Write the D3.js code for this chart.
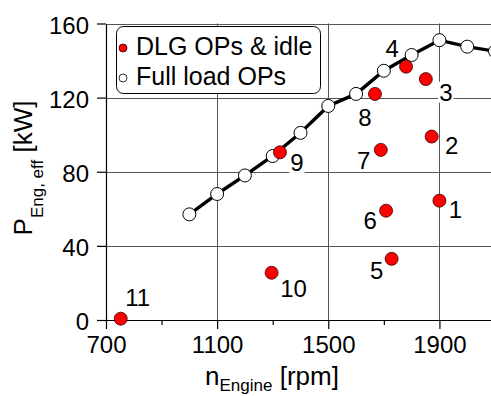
<!DOCTYPE html>
<html>
<head>
<meta charset="utf-8">
<script src="https://cdn.jsdelivr.net/npm/d3@7"></script>
<style>
    body { margin: 0; background: #fff; }
    svg { display: block; font-family: "Liberation Sans", Arial, sans-serif; }
</style>
</head>
<body>
<div id="chart"></div>
<script>
// full load operating points
const fullLoadRpm = [1000, 1100, 1200, 1300, 1400, 1500, 1600, 1700, 1800, 1900, 2000, 2100];
const fullLoadPower = [57, 68, 78, 88.5, 101, 115.5, 122, 134.5, 143, 151, 147.5, 145];

// DLG operating points & idle
const dlgNames = ["1", "2", "3", "4", "5", "6", "7", "8", "9", "10", "11"];
const dlgRpm = [1900, 1872, 1851, 1780, 1728, 1708, 1689, 1668, 1326, 1296, 753];
const dlgPower = [64.4, 99, 130, 136.7, 33, 59, 91.8, 122, 90.5, 25.5, 0.7];

const xTicks = [700, 1100, 1500, 1900];
const xMinorTicks = [900, 1300, 1700, 2100];
const yTicks = [0, 40, 80, 120, 160];
const legendLabels = ["DLG OPs & idle", "Full load OPs"];

// where each point label sits relative to its point (px)
const labelOffsets = [[16, 9], [20, 9], [20, 13], [-14, -18], [-15, 12], [-16, 10],
    [-17, 10], [-10, 23], [17, 10], [22, 15.5], [17, -21]];

const config = {
    width: 491,
    height: 396,
    left: 106,
    right: 495,
    top: 23.5,
    bottom: 320,
    gridColor: "#555"
};

const svg = d3.select("#chart")
    .append("svg")
    .attr("width", config.width)
    .attr("height", config.height);

const x = d3.scaleLinear().domain([700, 2100]).range([config.left, config.right]);
const y = d3.scaleLinear().domain([0, 160]).range([config.bottom, config.top]);

// grid
const grid = svg.append("g").attr("class", "grid");
grid.selectAll(".vgrid")
    .data(xTicks.slice(1))
    .enter()
    .append("line")
    .attr("x1", (d) => Math.round(x(d)) + 0.5)
    .attr("x2", (d) => Math.round(x(d)) + 0.5)
    .attr("y1", config.top)
    .attr("y2", config.bottom)
    .attr("stroke", config.gridColor)
    .attr("stroke-width", 1);

grid.selectAll(".hgrid")
    .data(yTicks.slice(1))
    .enter()
    .append("line")
    .attr("x1", config.left)
    .attr("x2", config.right)
    .attr("y1", (d) => Math.round(y(d)) + 0.5)
    .attr("y2", (d) => Math.round(y(d)) + 0.5)
    .attr("stroke", config.gridColor)
    .attr("stroke-width", 1);

// axes
const styleAxis = (g) => {
    g.select(".domain").attr("stroke", "#000").attr("stroke-width", 1.2);
    g.selectAll(".tick line").attr("stroke", "#000").attr("stroke-width", 1.2);
    g.selectAll(".tick text").attr("fill", "#000").style("font-size", "24px")
        .style("font-family", '"Liberation Sans", Arial, sans-serif');
};

svg.append("g")
    .attr("transform", `translate(0, ${config.bottom})`)
    .call(d3.axisBottom(x).tickValues(xMinorTicks).tickSize(5).tickFormat("").tickSizeOuter(0))
    .call(styleAxis);

svg.append("g")
    .attr("transform", `translate(0, ${config.bottom})`)
    .call(d3.axisBottom(x).tickValues(xTicks).tickSize(9).tickPadding(7).tickFormat(d3.format("d")).tickSizeOuter(0))
    .call(styleAxis);

svg.append("g")
    .attr("transform", `translate(${config.left}, 0)`)
    .call(d3.axisLeft(y).tickValues(yTicks).tickSize(9).tickPadding(8).tickSizeOuter(0))
    .call(styleAxis)
    .call((g) => g.selectAll(".tick text").attr("dy", "0.4em"));

// axis titles
const yTitle = svg.append("text")
    .attr("transform", "translate(32, 168) rotate(-90)")
    .attr("text-anchor", "middle")
    .style("font-size", "26px");
yTitle.append("tspan").text("P");
yTitle.append("tspan").attr("dy", 11).style("font-size", "17px").text("Eng, eff");
yTitle.append("tspan").attr("dy", -11).text(" [kW]");

const xTitle = svg.append("text")
    .attr("x", 272)
    .attr("y", 385)
    .attr("text-anchor", "middle")
    .style("font-size", "26px");
xTitle.append("tspan").text("n");
xTitle.append("tspan").attr("dy", 6).style("font-size", "17px").text("Engine");
xTitle.append("tspan").attr("dy", -6).text(" [rpm]");

const dlgData = dlgNames.map((name, i) => ({ name, rpm: dlgRpm[i], power: dlgPower[i], off: labelOffsets[i] }));
const fullData = fullLoadRpm.map((rpm, i) => ({ rpm, power: fullLoadPower[i] }));

// point labels with white boxes behind
const labelGroup = svg.append("g").attr("class", "point-labels");
dlgData.forEach((d) => {
    const g = labelGroup.append("g");
    const t = g.append("text")
        .attr("x", x(d.rpm) + d.off[0])
        .attr("y", y(d.power) + d.off[1])
        .attr("dy", "0.36em")
        .attr("text-anchor", "middle")
        .style("font-size", "24px")
        .text(d.name);
    const bb = t.node().getBBox();
    g.insert("rect", "text")
        .attr("x", bb.x - 1)
        .attr("y", bb.y + 3)
        .attr("width", bb.width + 2)
        .attr("height", bb.height - 6)
        .attr("fill", "#fff");
});

// full load curve
svg.append("path")
    .datum(fullData)
    .attr("d", d3.line().x((d) => x(d.rpm)).y((d) => y(d.power)))
    .attr("fill", "none")
    .attr("stroke", "#000")
    .attr("stroke-width", 3.4);

svg.append("g")
    .selectAll(".full-circle")
    .data(fullData)
    .enter()
    .append("circle")
    .attr("class", "full-circle")
    .attr("cx", (d) => x(d.rpm))
    .attr("cy", (d) => y(d.power))
    .attr("r", 6.5)
    .attr("fill", "#fff")
    .attr("stroke", "#000")
    .attr("stroke-width", 1);

svg.append("g")
    .selectAll(".dlg-circle")
    .data(dlgData)
    .enter()
    .append("circle")
    .attr("class", "dlg-circle")
    .attr("cx", (d) => x(d.rpm))
    .attr("cy", (d) => y(d.power))
    .attr("r", 6.5)
    .attr("fill", "#ff0000")
    .attr("stroke", "#300")
    .attr("stroke-width", 0.8);

// legend
const legend = svg.append("g").attr("class", "legend");
legend.append("rect")
    .attr("x", 116.5)
    .attr("y", 26.5)
    .attr("width", 204)
    .attr("height", 67)
    .attr("rx", 7)
    .attr("fill", "#fff")
    .attr("stroke", "#000")
    .attr("stroke-width", 1);

legend.selectAll("circle")
    .data(legendLabels)
    .enter()
    .append("circle")
    .attr("cx", 123)
    .attr("cy", (d, i) => 48 + i * 30)
    .attr("r", 4)
    .attr("fill", (d, i) => (i === 0 ? "#ff0000" : "#fff"))
    .attr("stroke", (d, i) => (i === 0 ? "#300" : "#000"))
    .attr("stroke-width", 0.8);

legend.selectAll("text")
    .data(legendLabels)
    .enter()
    .append("text")
    .attr("x", 136)
    .attr("y", (d, i) => 55 + i * 30)
    .style("font-size", "25px")
    .text((d) => d);
</script>
</body>
</html>
